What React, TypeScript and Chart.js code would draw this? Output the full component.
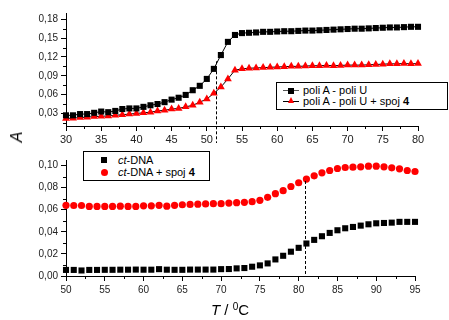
import React, { useEffect, useRef } from 'react';
import { Chart, registerables } from 'chart.js';

Chart.register(...registerables);

// ---------- Top panel: poli A - poli U ----------
const topTemps = [30, 31, 32, 33, 34, 35, 36, 37, 38, 39, 40, 41, 42, 43, 44, 45, 46, 47, 48, 49, 50, 51, 52, 53, 54, 55, 56, 57, 58, 59, 60, 61, 62, 63, 64, 65, 66, 67, 68, 69, 70, 71, 72, 73, 74, 75, 76, 77, 78, 79, 80];
const topPolyAU = [0.027, 0.027, 0.029, 0.029, 0.031, 0.033, 0.032, 0.034, 0.037, 0.038, 0.038, 0.0405, 0.043, 0.045, 0.048, 0.052, 0.055, 0.0595, 0.067, 0.074, 0.085, 0.101, 0.123, 0.144, 0.155, 0.158, 0.1585, 0.159, 0.16, 0.16, 0.1605, 0.161, 0.161, 0.1615, 0.162, 0.162, 0.1625, 0.163, 0.1635, 0.164, 0.1645, 0.165, 0.165, 0.1655, 0.166, 0.1665, 0.167, 0.167, 0.1675, 0.168, 0.168];
const topPolyAUSpoj = [0.022, 0.0225, 0.0235, 0.024, 0.025, 0.0255, 0.026, 0.027, 0.028, 0.029, 0.03, 0.031, 0.032, 0.034, 0.035, 0.037, 0.038, 0.0405, 0.043, 0.048, 0.053, 0.062, 0.072, 0.085, 0.099, 0.101, 0.102, 0.1025, 0.103, 0.1035, 0.104, 0.1045, 0.105, 0.105, 0.1055, 0.106, 0.106, 0.1065, 0.106, 0.1065, 0.107, 0.107, 0.107, 0.1075, 0.108, 0.1085, 0.109, 0.109, 0.1095, 0.109, 0.1095];
const topXTicks = [30, 35, 40, 45, 50, 55, 60, 65, 70, 75, 80];
const topXMinor = [32.5, 37.5, 42.5, 47.5, 52.5, 57.5, 62.5, 67.5, 72.5, 77.5];
const topYTicks = [0.03, 0.06, 0.09, 0.12, 0.15, 0.18];
const topYMinor = [0.015, 0.045, 0.075, 0.105, 0.135, 0.165];
const topMeltT = 51.3;
const topMeltA = 0.113;

// ---------- Bottom panel: ct-DNA ----------
const botTemps = [50, 51, 52, 53, 54, 55, 56, 57, 58, 59, 60, 61, 62, 63, 64, 65, 66, 67, 68, 69, 70, 71, 72, 73, 74, 75, 76, 77, 78, 79, 80, 81, 82, 83, 84, 85, 86, 87, 88, 89, 90, 91, 92, 93, 94, 95];
const botCtDNA = [0.0055, 0.0055, 0.005, 0.0055, 0.0055, 0.0056, 0.0056, 0.0057, 0.0057, 0.0058, 0.0057, 0.0057, 0.0062, 0.0057, 0.0056, 0.0056, 0.0058, 0.0058, 0.0058, 0.0058, 0.0062, 0.0063, 0.0069, 0.0072, 0.0084, 0.0096, 0.0114, 0.015, 0.0183, 0.022, 0.0255, 0.0294, 0.0327, 0.036, 0.039, 0.0414, 0.0432, 0.0444, 0.0456, 0.0468, 0.0477, 0.048, 0.0483, 0.049, 0.049, 0.049];
const botCtDNASpoj = [0.064, 0.0638, 0.0638, 0.063, 0.063, 0.063, 0.063, 0.0632, 0.063, 0.063, 0.0635, 0.0635, 0.064, 0.0632, 0.064, 0.0645, 0.0648, 0.065, 0.0652, 0.0655, 0.0655, 0.066, 0.0664, 0.0667, 0.0673, 0.0685, 0.0712, 0.0745, 0.0772, 0.081, 0.0844, 0.0877, 0.0907, 0.0934, 0.0955, 0.0973, 0.0982, 0.0985, 0.0988, 0.0994, 0.0994, 0.0988, 0.0979, 0.097, 0.0955, 0.0946];
const botXTicks = [50, 55, 60, 65, 70, 75, 80, 85, 90, 95];
const botXMinor = [52.5, 57.5, 62.5, 67.5, 72.5, 77.5, 82.5, 87.5, 92.5];
const botYTicks = [0, 0.02, 0.04, 0.06, 0.08, 0.1];
const botYMinor = [0.01, 0.03, 0.05, 0.07, 0.09];
const botMeltT = 80.8;
const botMeltA = 0.086;

const FONT = "'Liberation Sans', Arial, sans-serif";
const W = 449;
const H = 320;

const fmtComma = (v: number) => v.toFixed(2).replace('.', ',');

const extrasPlugin = {
  id: 'extras',
  afterDraw(chart: any, _args: any, opts: any) {
    const ctx = chart.ctx;
    const xs = chart.scales.x;
    const ys = chart.scales.y;
    const area = chart.chartArea;
    ctx.save();
    ctx.strokeStyle = '#000';
    ctx.lineWidth = 1;
    ctx.beginPath();
    (opts.xMinor || []).forEach((v: number) => {
      const px = Math.round(xs.getPixelForValue(v)) + 0.5;
      ctx.moveTo(px, area.bottom);
      ctx.lineTo(px, area.bottom + 3);
    });
    (opts.yMinor || []).forEach((v: number) => {
      const py = Math.round(ys.getPixelForValue(v)) + 0.5;
      ctx.moveTo(area.left, py);
      ctx.lineTo(area.left - 3, py);
    });
    ctx.stroke();
    if (opts.meltX != null) {
      const px = Math.round(xs.getPixelForValue(opts.meltX)) + 0.5;
      ctx.setLineDash([3, 2]);
      ctx.beginPath();
      ctx.moveTo(px, ys.getPixelForValue(opts.meltTop));
      ctx.lineTo(px, area.bottom + (opts.meltBelow || 0));
      ctx.stroke();
    }
    ctx.restore();
  },
};

function makeScales(xmin: number, xmax: number, xTicks: number[], ymin: number, ymax: number, yTicks: number[], xFont: number, yFont: number, xPad: number) {
  return {
    x: {
      type: 'linear',
      min: xmin,
      max: xmax,
      afterBuildTicks: (axis: any) => {
        axis.ticks = xTicks.map((v) => ({ value: v }));
      },
      afterFit: (axis: any) => {
        axis.height = 20;
      },
      grid: { drawOnChartArea: false, drawTicks: true, tickLength: 5, color: '#000', lineWidth: 1 },
      border: { display: true, color: '#000', width: 1 },
      ticks: {
        autoSkip: false,
        maxRotation: 0,
        padding: xPad,
        color: '#222',
        font: { family: FONT, size: xFont },
        callback: (v: any) => String(v),
      },
    },
    y: {
      type: 'linear',
      min: ymin,
      max: ymax,
      afterBuildTicks: (axis: any) => {
        axis.ticks = yTicks.map((v) => ({ value: v }));
      },
      afterFit: (axis: any) => {
        axis.width = 40;
      },
      grid: { drawOnChartArea: false, drawTicks: true, tickLength: 5, color: '#000', lineWidth: 1 },
      border: { display: true, color: '#000', width: 1 },
      ticks: {
        autoSkip: false,
        padding: 3,
        color: '#222',
        font: { family: FONT, size: yFont },
        callback: (v: any) => fmtComma(Number(v)),
      },
    },
  };
}

export default function App() {
  const topRef = useRef<HTMLCanvasElement | null>(null);
  const botRef = useRef<HTMLCanvasElement | null>(null);

  useEffect(() => {
    const topChart = new Chart(topRef.current as HTMLCanvasElement, {
      type: 'scatter',
      data: {
        datasets: [
          {
            label: 'poli A - poli U',
            data: topTemps.map((t, i) => ({ x: t, y: topPolyAU[i] })),
            showLine: true,
            borderColor: '#000',
            borderWidth: 1,
            backgroundColor: '#000',
            pointStyle: 'rect',
            pointRadius: 4.3,
            pointBorderWidth: 0,
            clip: false,
          } as any,
          {
            label: 'poli A - poli U + spoj 4',
            data: topTemps.map((t, i) => ({ x: t, y: topPolyAUSpoj[i] })),
            showLine: true,
            borderColor: '#000',
            borderWidth: 1,
            backgroundColor: '#ff0000',
            pointBackgroundColor: '#ff0000',
            pointBorderColor: '#ff0000',
            pointStyle: 'triangle',
            pointRadius: 4.5,
            pointBorderWidth: 0,
            clip: false,
          } as any,
        ],
      },
      options: {
        responsive: false,
        animation: false,
        devicePixelRatio: 1,
        events: [],
        layout: { padding: { left: 26, top: 13, right: W - 418, bottom: H - 126 - 20 } },
        scales: makeScales(30, 80, topXTicks, 0.01, 0.19, topYTicks, 11, 10, 2) as any,
        plugins: {
          legend: { display: false },
          tooltip: { enabled: false },
          extras: { xMinor: topXMinor, yMinor: topYMinor, meltX: topMeltT, meltTop: topMeltA, meltBelow: 17 },
        } as any,
      },
      plugins: [extrasPlugin],
    });

    const botChart = new Chart(botRef.current as HTMLCanvasElement, {
      type: 'scatter',
      data: {
        datasets: [
          {
            label: 'ct-DNA',
            data: botTemps.map((t, i) => ({ x: t, y: botCtDNA[i] })),
            backgroundColor: '#000',
            pointStyle: 'rect',
            pointRadius: 4.3,
            pointBorderWidth: 0,
            clip: false,
          } as any,
          {
            label: 'ct-DNA + spoj 4',
            data: botTemps.map((t, i) => ({ x: t, y: botCtDNASpoj[i] })),
            backgroundColor: '#ff0000',
            pointStyle: 'circle',
            pointRadius: 3.6,
            pointBorderWidth: 0,
            clip: false,
          } as any,
        ],
      },
      options: {
        responsive: false,
        animation: false,
        devicePixelRatio: 1,
        events: [],
        layout: { padding: { left: 26, top: 160, right: W - 415, bottom: H - 276 - 20 } },
        scales: makeScales(50, 95, botXTicks, 0, 0.105, botYTicks, 10, 10, 3) as any,
        plugins: {
          legend: { display: false },
          tooltip: { enabled: false },
          extras: { xMinor: botXMinor, yMinor: botYMinor, meltX: botMeltT, meltTop: botMeltA, meltBelow: 0 },
        } as any,
      },
      plugins: [extrasPlugin],
    });

    return () => {
      topChart.destroy();
      botChart.destroy();
    };
  }, []);

  const canvasStyle: React.CSSProperties = { position: 'absolute', left: 0, top: 0, width: W, height: H };
  const legendText: React.CSSProperties = { position: 'absolute', fontFamily: FONT, fontSize: 11, color: '#000', whiteSpace: 'nowrap', lineHeight: '12px' };

  return (
    <div style={{ position: 'fixed', left: 0, top: 0, width: W, height: H, background: '#fff', overflow: 'hidden' }}>
      <canvas ref={topRef} width={W} height={H} style={canvasStyle} />
      <canvas ref={botRef} width={W} height={H} style={canvasStyle} />

      {/* Top legend */}
      <div style={{ position: 'absolute', left: 276, top: 82, width: 172, height: 28, border: '1px solid #000', boxSizing: 'border-box', background: '#fff' }}>
        <div style={{ position: 'absolute', left: 6, top: 7, width: 16, height: 1, background: '#555' }} />
        <div style={{ position: 'absolute', left: 11, top: 4.5, width: 6, height: 6, background: '#000' }} />
        <div style={{ ...legendText, left: 26, top: 1 }}>poli A - poli U</div>
        <div style={{ position: 'absolute', left: 6, top: 18, width: 16, height: 1, background: '#000' }} />
        <div style={{ position: 'absolute', left: 10.5, top: 14, width: 0, height: 0, borderLeft: '3.5px solid transparent', borderRight: '3.5px solid transparent', borderBottom: '6px solid #ff0000' }} />
        <div style={{ ...legendText, left: 26, top: 12 }}>poli A - poli U + spoj <b>4</b></div>
      </div>

      {/* Bottom legend */}
      <div style={{ position: 'absolute', left: 83, top: 151, width: 127, height: 30, border: '1px solid #000', boxSizing: 'border-box', background: '#fff' }}>
        <div style={{ position: 'absolute', left: 17, top: 5, width: 6, height: 6, background: '#000' }} />
        <div style={{ ...legendText, left: 34, top: 2 }}><i>ct</i>-DNA</div>
        <div style={{ position: 'absolute', left: 16.5, top: 17, width: 7, height: 7, borderRadius: '50%', background: '#ff0000' }} />
        <div style={{ ...legendText, left: 34, top: 14 }}><i>ct</i>-DNA + spoj <b>4</b></div>
      </div>

      {/* Axis titles */}
      <div style={{ position: 'absolute', left: 17, top: 137, transform: 'translate(-50%, -50%) rotate(-90deg)', fontFamily: FONT, fontSize: 16, fontStyle: 'italic', color: '#000', lineHeight: '16px' }}>A</div>
      <div style={{ position: 'absolute', left: 230, top: 310, transform: 'translate(-50%, -50%)', fontFamily: FONT, fontSize: 15, color: '#000', whiteSpace: 'nowrap', lineHeight: '16px' }}>
        <i>T</i> / <sup style={{ fontSize: 10, verticalAlign: 'top', lineHeight: '10px' }}>0</sup>C
      </div>
    </div>
  );
}
